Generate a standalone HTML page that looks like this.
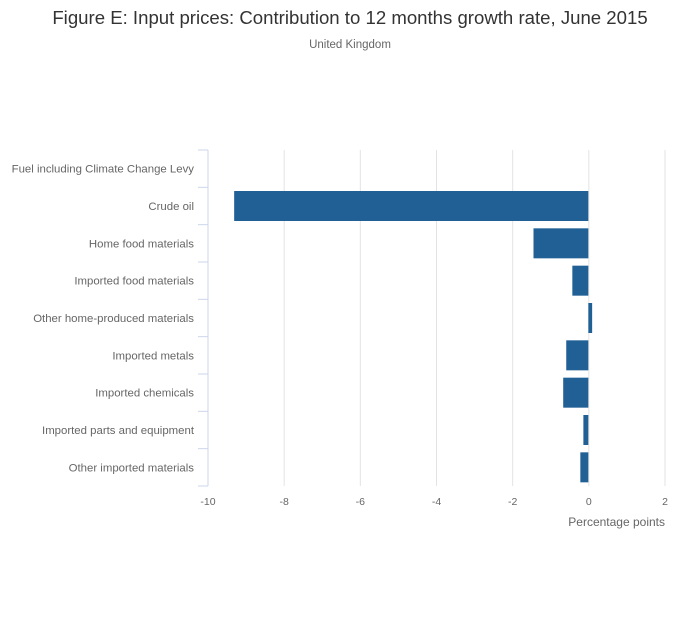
<!DOCTYPE html>
<html><head><meta charset="utf-8"><style>
body{margin:0;background:#fff;font-family:"Liberation Sans",sans-serif;}
</style></head><body>
<svg width="700" height="635" xmlns="http://www.w3.org/2000/svg">
<text x="350" y="24" text-anchor="middle" font-size="18.6" fill="#333">Figure E: Input prices: Contribution to 12 months growth rate, June 2015</text>
<text x="350" y="48" text-anchor="middle" font-size="11.5" fill="#666">United Kingdom</text>
<g id="grid"></g><g id="bars"></g><g id="axes"></g>
<text x="665" y="526" text-anchor="end" font-size="12" fill="#666">Percentage points</text>
</svg>
<script>
const categories=["Fuel including Climate Change Levy","Crude oil","Home food materials","Imported food materials","Other home-produced materials","Imported metals","Imported chemicals","Imported parts and equipment","Other imported materials"];
const values=[0,-9.3,-1.44,-0.42,0.1,-0.58,-0.66,-0.13,-0.21];
const ticks=[-10,-8,-6,-4,-2,0,2];
const X0=208,X1=665,Y0=150,Y1=486,xmin=-10,xmax=2;
const xs=v=>X0+(v-xmin)/(xmax-xmin)*(X1-X0);
const band=(Y1-Y0)/categories.length;
const ys=i=>Y0+i*band;
const NS="http://www.w3.org/2000/svg";
function mk(p,t,a){const e=document.createElementNS(NS,t);for(const k in a)e.setAttribute(k,a[k]);p.appendChild(e);return e;}
const g=document.getElementById('grid'),b=document.getElementById('bars'),ax=document.getElementById('axes');
ticks.forEach(t=>{
 if(t!==xmin){const l=mk(g,'line',{x1:xs(t),x2:xs(t),y1:Y0,y2:Y1,stroke:'#e3e3e3','stroke-width':1});
 
 }
 const tx=mk(ax,'text',{x:xs(t),y:505,'text-anchor':'middle','font-size':10.5,fill:'#666'});
 tx.textContent=t;
 
 
});
const al=mk(ax,'line',{x1:X0,x2:X0,y1:Y0,y2:Y1,stroke:'#ccd6eb','stroke-width':1});


for(let i=0;i<=categories.length;i++){
 const tk=mk(ax,'line',{x1:X0-10,x2:X0,y1:ys(i),y2:ys(i),stroke:'#ccd6eb','stroke-width':1});
 
 
}
categories.forEach((c,i)=>{
 const cy=ys(i)+band/2;
 const tx=mk(ax,'text',{x:194,y:cy+4,'text-anchor':'end','font-size':11.4,fill:'#666'});
 tx.textContent=c;
 
 
 const v=values[i];
 const x=Math.min(xs(0),xs(v)),w=Math.abs(xs(v)-xs(0));
 const r=mk(b,'rect',{x:x-0.5,y:cy-15,width:w,height:30,fill:'#206095'});
 
 
});
</script>
</body></html>
